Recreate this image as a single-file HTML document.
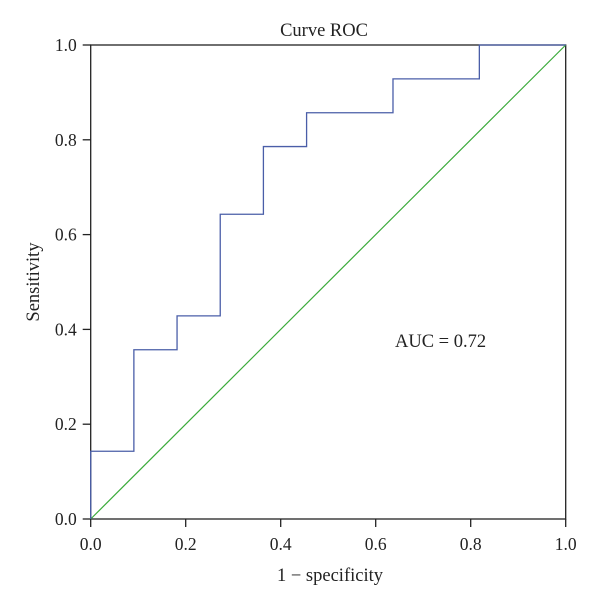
<!DOCTYPE html>
<html><head><meta charset="utf-8"><style>
body{margin:0;background:#fff;}
svg text{font-family:"Liberation Serif",serif;fill:#222;}
</style></head><body>
<svg id="chart" width="600" height="606" xmlns="http://www.w3.org/2000/svg"></svg>
<script>
const fprValues=[0,0,0.0909,0.0909,0.1818,0.1818,0.2727,0.2727,0.3636,0.3636,0.4545,0.4545,0.6364,0.6364,0.8182,0.8182,1];
const tprValues=[0,0.1429,0.1429,0.3571,0.3571,0.4286,0.4286,0.6429,0.6429,0.7857,0.7857,0.8571,0.8571,0.9286,0.9286,1,1];
const tickValues=[0,0.2,0.4,0.6,0.8,1.0];
const tickLabels=["0.0","0.2","0.4","0.6","0.8","1.0"];
const aucLabel="AUC = 0.72";

const NS="http://www.w3.org/2000/svg";
const svg=document.getElementById('chart');
const L=90.7,R=565.7,T=45,B=519;
const sx=v=>L+v*(R-L), sy=v=>B-v*(B-T);
function mk(tag,attrs,text){const e=document.createElementNS(NS,tag);for(const k in attrs)e.setAttribute(k,attrs[k]);if(text!=null)e.textContent=text;svg.appendChild(e);return e;}

let e=mk('rect',{x:L,y:T,width:R-L,height:B-T,fill:'none',stroke:'#222','stroke-width':1.3});



tickValues.forEach((v,i)=>{
  let t=mk('line',{x1:L-8,x2:L,y1:sy(v),y2:sy(v),stroke:'#222','stroke-width':1.3});
  
  
  let l=mk('text',{x:L-14,y:sy(v)+6,'text-anchor':'end','font-size':17.5},tickLabels[i]);
  
  
  let t2=mk('line',{x1:sx(v),x2:sx(v),y1:B,y2:B+8,stroke:'#222','stroke-width':1.3});
  
  
  let l2=mk('text',{x:sx(v),y:B+31,'text-anchor':'middle','font-size':17.5},tickLabels[i]);
  
  
});

e=mk('line',{x1:sx(0),y1:sy(0),x2:sx(1),y2:sy(1),stroke:'#3aaa3a','stroke-width':1.2});



const pts=fprValues.map((x,i)=>sx(x)+','+sy(tprValues[i])).join(' ');
e=mk('polyline',{points:pts,fill:'none',stroke:'#4a5ea8','stroke-width':1.3});



e=mk('text',{x:324,y:36,'text-anchor':'middle','font-size':18.5},'Curve ROC');


e=mk('text',{x:330,y:581,'text-anchor':'middle','font-size':18.5},'1 − specificity');


e=mk('text',{x:0,y:0,'text-anchor':'middle','font-size':18.5,transform:'translate(39,282) rotate(-90)'},'Sensitivity');


e=mk('text',{x:395,y:347,'font-size':18.5},aucLabel);


</script>
</body></html>
